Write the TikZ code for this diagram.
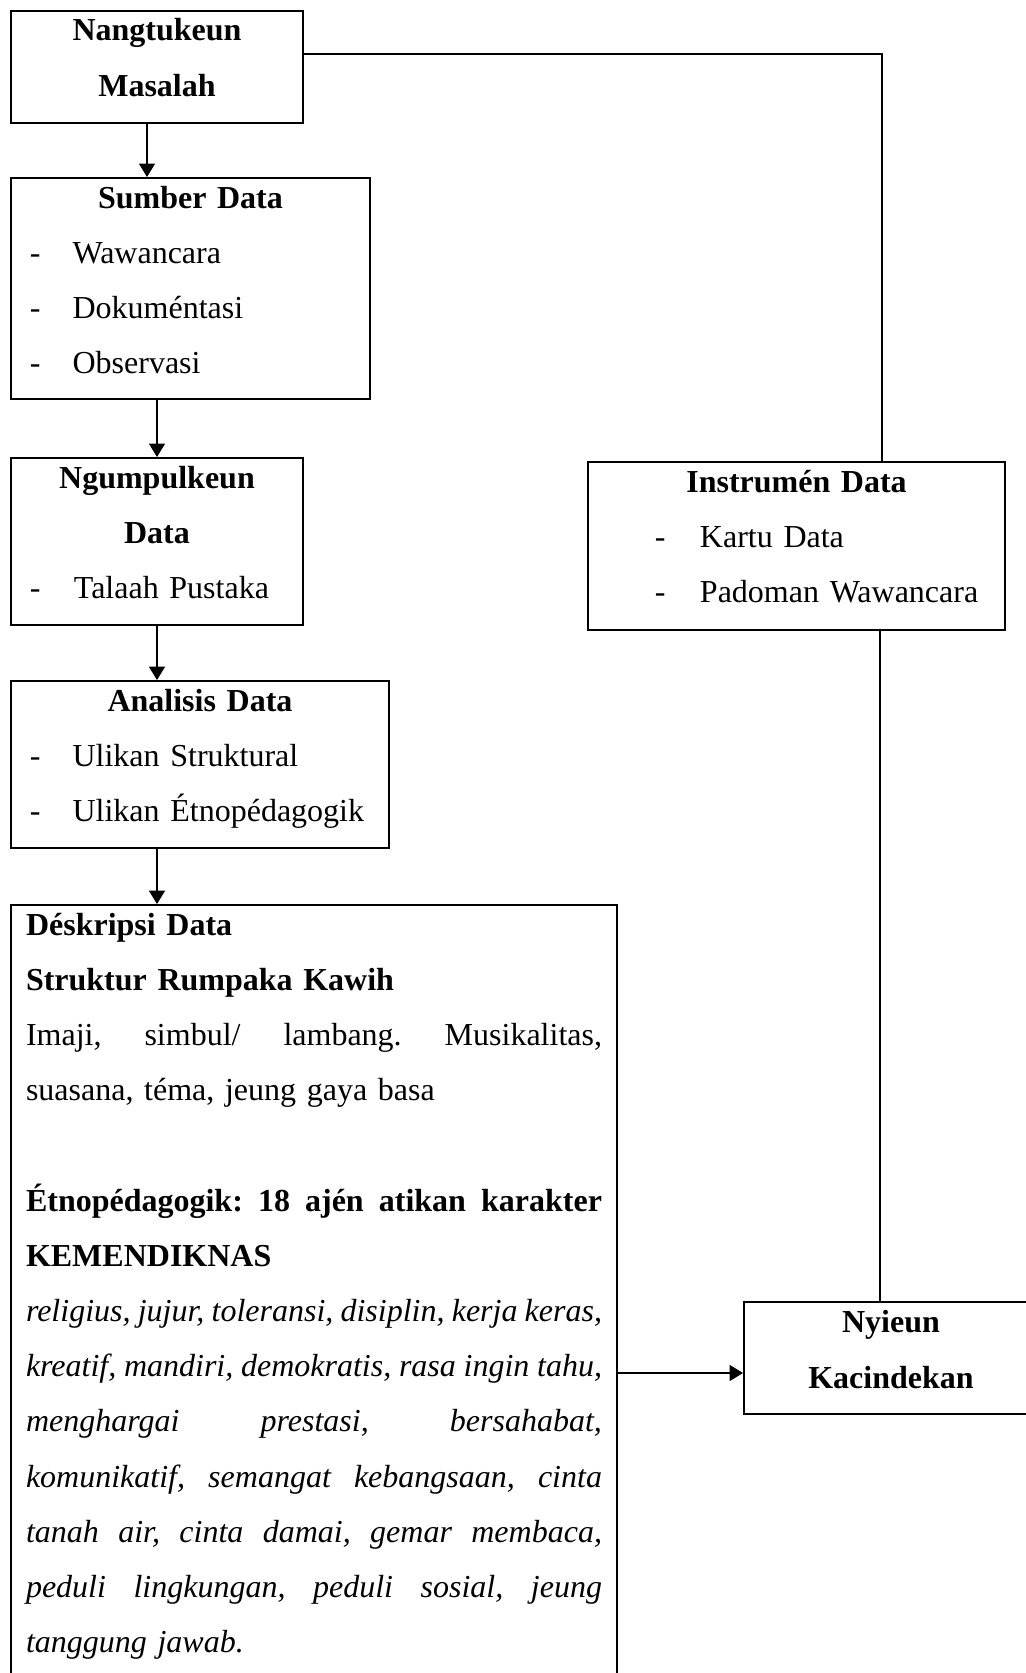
\documentclass[tikz,border=0pt]{standalone}
\usepackage{fontspec}
\setmainfont{Liberation Serif}
\usepackage{tikz}
\usetikzlibrary{calc,arrows.meta}
\tikzset{flowbox/.style={draw, line width=0.75pt, anchor=north west, inner xsep=0pt, inner ysep=0pt,
  font=\fontsize{12pt}{20.7pt}\selectfont\frenchspacing, text height=11.25pt},
link/.style={line width=0.4pt},
arr/.style={line width=0.4pt, -{Triangle[length=5pt,width=6pt]}}}
\newcommand{\boxhead}[1]{{\centering\bfseries #1\par}}
\newcommand{\dashitem}[3][7.1pt]{\makebox[#2][l]{\hspace*{#1}-}#3\par}
% one justified line, spaces stretched to the full width
\newcommand{\fullline}[1]{\hbox to\linewidth{\spaceskip=.25em plus 1fil minus .1em\relax #1}}

\begin{document}
\begin{tikzpicture}[x=0.375pt, y=-0.375pt]
        \useasboundingbox (0,0) rectangle (1025,1673);
        \node[flowbox, text width=109.5pt, text depth=30.75pt] (masalah) at (10,10) {\boxhead{Nangtukeun\par Masalah}};
        \node[flowbox, text width=134.6pt, text depth=71.6pt] (sumber) at (10,177) {\boxhead{Sumber Data}
            \dashitem{23.1pt}{Wawancara}
            \dashitem{23.1pt}{Dokuméntasi}
            \dashitem{23.1pt}{Observasi}};
        \node[flowbox, text width=109.5pt, text depth=51.4pt] (ngumpul) at (10,457) {\boxhead{Ngumpulkeun\par Data}
            \dashitem{23.6pt}{Talaah Pustaka}};
        \node[flowbox, text width=141.75pt, text depth=51.4pt] (analisis) at (10,680) {\boxhead{Analisis Data}
            \dashitem{23.1pt}{Ulikan Struktural}
            \dashitem{23.1pt}{Ulikan Étnopédagogik}};
        \node[flowbox, text width=216pt, inner xsep=5.625pt, text depth=290pt] (deskripsi) at (10,904) {%
            \textbf{Déskripsi Data}\par
            \textbf{Struktur Rumpaka Kawih}\par
            \fullline{Imaji, simbul/ lambang. Musikalitas,}
            suasana, téma, jeung gaya basa\par
            \mbox{}\par
            {\bfseries\fullline{Étnopédagogik: 18 ajén atikan karakter}
            KEMENDIKNAS\par}
            {\itshape\fullline{religius, jujur, toleransi, disiplin, kerja keras,}
            \fullline{kreatif, mandiri, demokratis, rasa ingin tahu,}
            \fullline{menghargai prestasi, bersahabat,}
            \fullline{komunikatif, semangat kebangsaan, cinta}
            \fullline{tanah air, cinta damai, gemar membaca,}
            \fullline{peduli lingkungan, peduli sosial, jeung}
            tanggung jawab.\par}};
        \node[flowbox, text width=156.4pt, text depth=51.75pt] (instrumen) at (587,461) {\boxhead{Instrumén Data}
            \dashitem[25.1pt]{42pt}{Kartu Data}
            \dashitem[25.1pt]{42pt}{Padoman Wawancara}};
        \node[flowbox, text width=110.25pt, text height=11.6pt, text depth=30.4pt] (kacindekan) at (743,1301) {\boxhead{Nyieun\par Kacindekan}};

        % connectors
        \coordinate (drop) at (147,0);
        \coordinate (turn) at (882,54);
        \coordinate (leg) at (880,0);
        \coordinate (feed) at (0,1373);
        \draw[arr] (masalah.south -| drop) -- (sumber.north -| drop);
        \draw[arr] (sumber.south -| ngumpul.north) -- (ngumpul.north);
        \draw[arr] (ngumpul.south) -- (analisis.north -| ngumpul.south);
        \draw[arr] (analisis.south -| ngumpul.south) -- (deskripsi.north -| ngumpul.south);
        \draw[link] (masalah.east |- turn) -- (turn) -- (instrumen.north -| turn);
        \draw[link] (instrumen.south -| leg) -- (kacindekan.north -| leg);
        \draw[arr] (deskripsi.east |- feed) -- (kacindekan.west |- feed);
\end{tikzpicture}
\end{document}
